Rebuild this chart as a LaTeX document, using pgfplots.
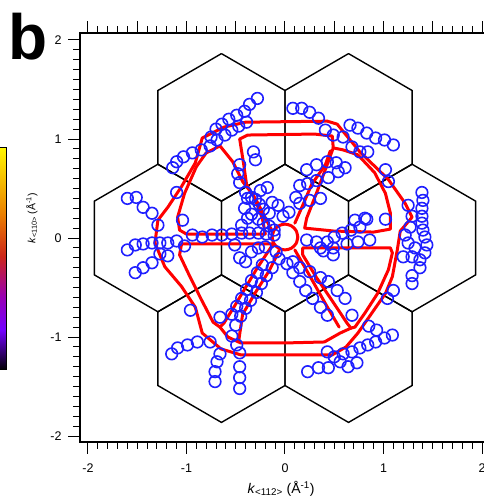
\documentclass[border=0pt]{standalone}
\usepackage{fontspec}
\setmainfont{Liberation Sans}
\usepackage{pgfplots}
\pgfplotsset{compat=1.18}
\definecolor{cblue}{rgb}{0.12,0.12,1}
\definecolor{cred}{rgb}{1,0,0}
\definecolor{cbviolet}{rgb}{0.45,0.0,1.0}
\definecolor{cbpurple}{rgb}{0.6,0.0,0.7}
\definecolor{cbred}{rgb}{0.8,0.15,0.1}
\definecolor{cborange}{rgb}{0.92,0.5,0.0}
\definecolor{cbyellow}{rgb}{1,0.97,0.0}
\pgfdeclareverticalshading{cbar}{100bp}{color(0bp)=(black); color(25bp)=(black); color(34bp)=(cbviolet); color(41.5bp)=(cbpurple); color(50.5bp)=(cbred); color(60bp)=(cborange); color(75bp)=(cbyellow); color(100bp)=(cbyellow)}
\begin{document}
\begin{tikzpicture}
\begin{axis}[
  scale only axis, width=409.8pt, height=408.9pt,
  xmin=-2.08, xmax=2.08, ymin=-2.06, ymax=2.07,
  xtick={-2,-1,0,1,2}, ytick={-2,-1,0,1,2},
  xticklabels={-2,-1,0,1,2}, yticklabels={-2,-1,0,1,2},
  minor x tick num=9, minor y tick num=9,
  tick align=outside, xtick pos=bottom, ytick pos=left,
  major tick length=12pt, minor tick length=7pt,
  tick style={black, line width=1pt},
  axis line style={black, line width=1.2pt},
  tick label style={font=\fontsize{12.5}{14}\selectfont},
  xticklabel style={yshift=-6pt},
  yticklabel style={xshift=-3pt},
  clip=false,
]
% colour bar (cropped at the left edge)
\shade[shading=cbar] (axis cs:-3.05,-1.333) rectangle (axis cs:-2.822,0.919);
\draw[black, line width=1pt] (axis cs:-3.05,-1.333) rectangle (axis cs:-2.822,0.919);
% Brillouin zones
\addplot[black, line width=1.4pt, line join=miter] coordinates {(0,0.745) (0.645,0.3725) (0.645,-0.3725) (0,-0.745) (-0.645,-0.3725) (-0.645,0.3725) (0,0.745)};
\addplot[black, line width=1.4pt, line join=miter] coordinates {(1.29,0.745) (1.935,0.3725) (1.935,-0.3725) (1.29,-0.745) (0.645,-0.3725) (0.645,0.3725) (1.29,0.745)};
\addplot[black, line width=1.4pt, line join=miter] coordinates {(-1.29,0.745) (-0.645,0.3725) (-0.645,-0.3725) (-1.29,-0.745) (-1.935,-0.3725) (-1.935,0.3725) (-1.29,0.745)};
\addplot[black, line width=1.4pt, line join=miter] coordinates {(0.645,1.8625) (1.29,1.49) (1.29,0.745) (0.645,0.3725) (0,0.745) (0,1.49) (0.645,1.8625)};
\addplot[black, line width=1.4pt, line join=miter] coordinates {(-0.645,1.8625) (0,1.49) (0,0.745) (-0.645,0.3725) (-1.29,0.745) (-1.29,1.49) (-0.645,1.8625)};
\addplot[black, line width=1.4pt, line join=miter] coordinates {(0.645,-0.3725) (1.29,-0.745) (1.29,-1.49) (0.645,-1.8625) (0,-1.49) (0,-0.745) (0.645,-0.3725)};
\addplot[black, line width=1.4pt, line join=miter] coordinates {(-0.645,-0.3725) (0,-0.745) (0,-1.49) (-0.645,-1.8625) (-1.29,-1.49) (-1.29,-0.745) (-0.645,-0.3725)};
% calculated contours
\pgfplotsset{redline/.style={cred, line width=3pt, line join=round, line cap=round}}
\addplot[redline] coordinates {(-0.40,1.17) (0.43,1.18) (0.53,1.15) (0.76,0.87) (1.05,0.59) (1.22,0.35) (1.29,0.21) (1.17,0.07) (1.14,-0.12) (1.09,-0.39) (1.02,-0.56) (0.88,-0.76) (0.74,-0.96) (0.62,-1.10) (0.48,-1.18) (-0.45,-1.18) (-0.65,-1.12) (-0.84,-0.96) (-0.91,-0.70) (-1.05,-0.49) (-1.22,-0.29) (-1.32,-0.05) (-1.29,0.18) (-1.19,0.31) (-1.05,0.52) (-0.91,0.76) (-0.84,1.01) (-0.62,1.12) (-0.40,1.17)};
\addplot[redline] coordinates {(0.49,0.91) (0.42,0.72) (0.33,0.48) (0.22,0.20) (0.20,0.10) (0.50,0.07) (0.90,0.06) (1.07,0.09) (1.07,0.25) (1.02,0.45) (0.91,0.66) (0.74,0.84) (0.59,0.89) (0.49,0.91)};
\addplot[redline] coordinates {(0.49,0.91) (0.48,1.03) (0.30,1.05) (-0.38,1.04) (-0.46,1.00) (-0.42,0.75) (-0.39,0.54) (-0.28,0.36) (-0.12,0.05)};
\addplot[redline] coordinates {(-0.66,0.93) (-0.80,0.86) (-0.90,0.72) (-1.02,0.45) (-1.09,0.21) (-1.07,0.08) (-1.00,0.04) (-0.50,0.04) (-0.20,0.04) (-0.23,0.20) (-0.32,0.43) (-0.43,0.57) (-0.53,0.77) (-0.66,0.93)};
\addplot[redline] coordinates {(0.10,0.15) (0.18,0.33) (0.27,0.54) (0.41,0.74) (0.46,0.88)};
\addplot[redline] coordinates {(0.18,-0.10) (0.60,-0.10) (1.07,-0.10) (1.09,-0.15) (1.05,-0.32) (0.94,-0.56) (0.81,-0.76) (0.71,-0.90) (0.67,-0.91) (0.63,-0.86) (0.49,-0.65) (0.32,-0.40) (0.18,-0.17) (0.18,-0.10)};
\addplot[redline] coordinates {(0.67,-0.91) (0.56,-0.96) (0.40,-1.05) (0.0,-1.06) (-0.45,-1.06) (-0.58,-1.00) (-0.66,-0.90)};
\addplot[redline] coordinates {(0.10,-0.12) (0.25,-0.38) (0.42,-0.68) (0.55,-0.90)};
\addplot[redline] coordinates {(-1.05,-0.06) (-0.50,-0.06) (-0.12,-0.06) (-0.16,-0.12) (-0.28,-0.30) (-0.40,-0.50) (-0.52,-0.70) (-0.62,-0.86) (-0.66,-0.90) (-0.73,-0.85) (-0.85,-0.62) (-0.97,-0.38) (-1.07,-0.17) (-1.05,-0.06)};
\addplot[redline] coordinates {(-0.06,-0.13) (-0.16,-0.33) (-0.30,-0.55) (-0.43,-0.77) (-0.47,-1.04)};
\addplot[redline, smooth] coordinates {(0.13,0.01) (0.113,0.075) (0.065,0.123) (0,0.14) (-0.065,0.123) (-0.113,0.075) (-0.13,0.01) (-0.113,-0.055) (-0.065,-0.103) (0,-0.12) (0.065,-0.103) (0.113,-0.055) (0.13,0.01)};
% measured points
\addplot[only marks, mark=o, mark size=5.8pt, cblue, line width=1.6pt] coordinates {
(-0.28,1.41) (-0.36,1.35) (-0.41,1.28) (-0.49,1.24) (-0.57,1.20) (-0.64,1.15) (-0.70,1.10) (-0.75,1.02)
(-0.39,1.17) (-0.47,1.13) (-0.54,1.09) (-0.61,1.04) (-0.69,0.99) (-0.76,0.93)
(-0.85,0.89) (-0.94,0.86) (-1.03,0.82) (-1.10,0.77) (-1.14,0.71)
(-1.10,0.46) (-1.04,0.18)
(-0.32,0.87) (-0.30,0.79) (-0.46,0.74) (-0.48,0.65) (-0.46,0.56) (-0.40,0.46) (-0.34,0.41) (-0.25,0.48) (-0.18,0.51)
(-0.38,0.40) (-0.30,0.39) (-0.26,0.34) (-0.22,0.29) (-0.16,0.25) (-0.41,0.30) (-0.34,0.24) (-0.27,0.19) (-0.22,0.15) (-0.16,0.12) (-0.11,0.08) (-0.38,0.20) (-0.44,0.13) (-0.13,0.36) (-0.07,0.33)
(-0.94,0.03) (-0.84,0.01) (-0.74,0.03) (-0.64,0.03) (-0.54,0.04) (-0.44,0.05) (-0.36,0.05) (-0.27,0.05) (-0.19,0.04) (-0.11,0.03)
(-1.60,-0.12) (-1.52,-0.07) (-1.44,-0.06) (-1.35,-0.05) (-1.27,-0.05) (-1.19,-0.05) (-1.10,-0.03) (-1.02,-0.08)
(-1.60,0.40) (-1.51,0.41) (-1.44,0.31) (-1.35,0.25) (-1.29,0.13)
(-1.52,-0.35) (-1.44,-0.30) (-1.35,-0.25) (-1.27,-0.16) (-1.19,-0.18)
(-0.51,-0.07) (-0.46,-0.20) (-0.40,-0.24) (-0.34,-0.14) (-0.27,-0.10) (-0.20,-0.09) (-0.09,-0.14) (-0.06,-0.21)
(-0.13,-0.30) (-0.19,-0.38) (-0.24,-0.46) (-0.29,-0.55) (-0.35,-0.63) (-0.40,-0.71) (-0.45,-0.79) (-0.50,-0.88)
(-0.23,-0.27) (-0.28,-0.35) (-0.34,-0.43) (-0.39,-0.52) (-0.44,-0.61) (-0.49,-0.69) (-0.54,-0.77)
(-0.66,-0.80) (-0.54,-0.99) (-0.49,-1.08) (-0.46,-1.16) (-0.46,-1.30) (-0.46,-1.41) (-0.46,-1.52)
(-0.71,-1.35) (-0.69,-1.25) (-0.66,-1.17) (-0.71,-1.45) (-0.96,-0.73)
(-1.15,-1.17) (-1.09,-1.11) (-0.99,-1.08) (-0.89,-1.05) (-0.76,-1.05)
(0.08,1.31) (0.17,1.31) (0.25,1.27) (0.34,1.21) (0.41,1.09) (0.49,1.04)
(0.66,1.14) (0.74,1.11) (0.83,1.06) (0.92,1.01) (1.01,0.99) (1.10,0.94)
(0.59,1.02) (0.68,0.92) (0.76,0.87) (0.84,0.87) (1.02,0.69) (1.05,0.57)
(0.22,0.69) (0.32,0.74) (0.43,0.77) (0.52,0.76) (0.61,0.71)
(0.15,0.53) (0.23,0.55) (0.32,0.58) (0.44,0.61) (0.54,0.67)
(0.11,0.41) (0.15,0.35) (0.04,0.26) (-0.02,0.22) (0.36,0.40) (0.25,0.38)
(0.22,-0.02) (0.32,-0.04) (0.43,-0.04) (0.50,0.01) (0.58,0.05) (0.67,0.08) (0.76,0.11) (0.83,0.19)
(0.39,-0.13) (0.49,-0.10) (0.63,-0.06) (0.74,-0.04) (0.86,-0.02)
(0.71,0.18) (0.81,0.20) (1.02,0.19)
(1.39,0.46) (1.40,0.38) (1.39,0.30) (1.39,0.22) (1.39,0.15) (1.40,0.08) (1.42,0.01) (1.44,-0.07) (1.42,-0.15) (1.37,-0.22) (1.37,-0.30) (1.29,-0.38) (1.29,-0.46)
(1.25,0.33) (1.29,0.22) (1.27,0.11) (1.22,0.03) (1.25,-0.05) (1.32,-0.10) (1.29,-0.19) (1.20,-0.19)
(1.10,-0.53) (1.04,-0.61)
(0.08,-0.24) (0.15,-0.30) (0.25,-0.34) (0.36,-0.40) (0.44,-0.44) (0.53,-0.53) (0.61,-0.61)
(0.02,-0.26) (0.08,-0.35) (0.15,-0.44) (0.21,-0.53) (0.28,-0.61) (0.36,-0.70) (0.43,-0.78)
(0.36,-0.10) (0.49,-0.17) (0.68,-0.78)
(1.09,-0.98) (1.01,-1.01) (0.92,-1.05) (0.84,-1.08) (0.76,-1.11) (0.68,-1.15) (0.59,-1.17) (0.50,-1.20) (0.43,-1.15)
(0.73,-1.26) (0.64,-1.30) (0.56,-1.25) (0.44,-1.31) (0.34,-1.31) (0.23,-1.35)
(0.93,-0.93) (0.85,-0.89)
};
% labels
\node[anchor=base west, inner sep=0pt] at (axis cs:-2.81,1.80) {\fontsize{64}{64}\selectfont\bfseries b};
\node[rotate=90, inner sep=0pt] at (axis cs:-2.57,0.20) {\fontsize{10.5}{12}\selectfont\textit{k}\textsubscript{<110>} (Å\textsuperscript{-1})};
\node[inner sep=0pt] at (axis cs:-0.04,-2.535) {\fontsize{14}{16}\selectfont\textit{k}\textsubscript{<112>} (Å\textsuperscript{-1})};
\coordinate (bbsw) at (axis cs:-2.893,-2.636);
\coordinate (bbne) at (axis cs:2.01,2.404);
\end{axis}
\begin{axis}[
  scale only axis, width=409.8pt, height=408.9pt,
  xmin=-2.08, xmax=2.08, ymin=-2.06, ymax=2.07,
  hide y axis, xtick pos=top, tick align=outside,
  xtick={-2,-1.5,-1,-0.5,0,0.5,1,1.5,2}, xticklabels={},
  minor x tick num=4,
  major tick length=12pt, minor tick length=7pt,
  tick style={black, line width=1pt},
  axis line style={black, line width=1.2pt},
]
\addplot[draw=none] coordinates {(0,0)};
\end{axis}
\pgfresetboundingbox
\path[use as bounding box] (bbsw) rectangle (bbne);
\end{tikzpicture}
\end{document}
